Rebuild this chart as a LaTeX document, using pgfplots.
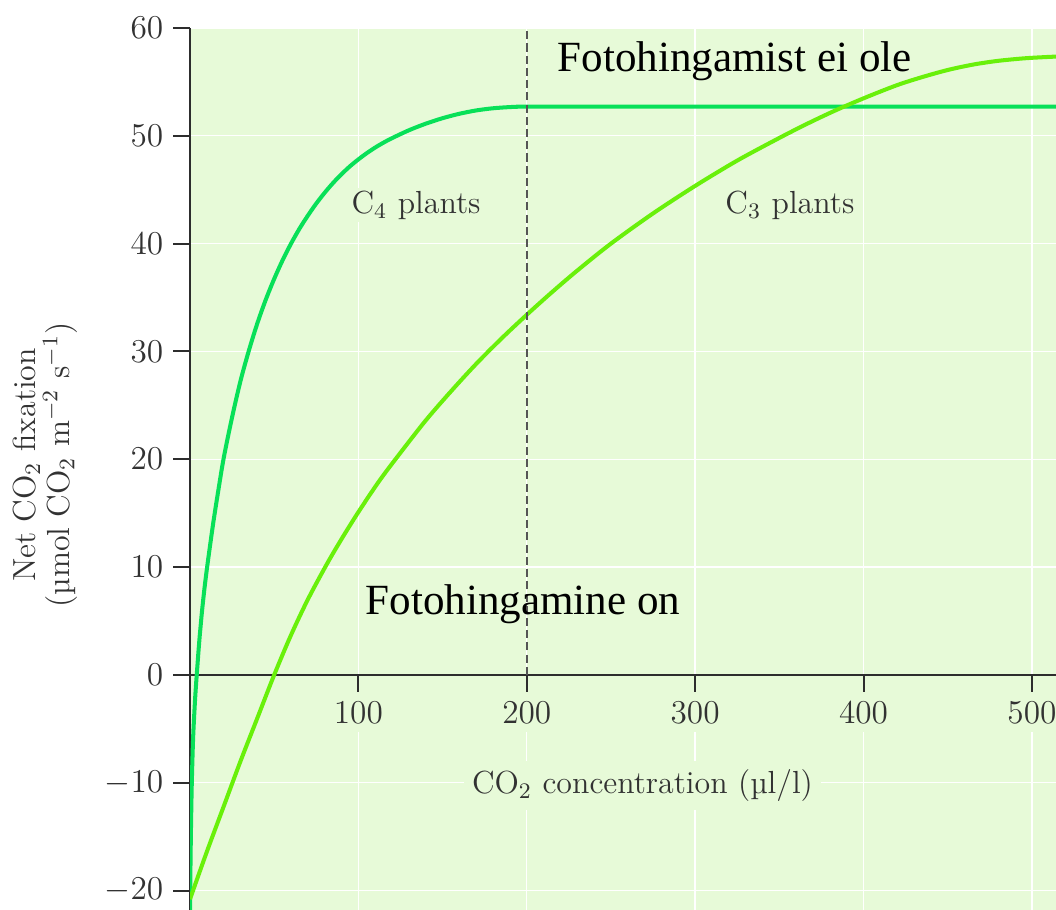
\documentclass[border=0pt]{standalone}
\usepackage{fontspec}
\usepackage{pgfplots}
\pgfplotsset{compat=1.18}
\newfontfamily\timesf{Liberation Serif}[Ligatures=TeX]
\definecolor{bgGreen}{RGB}{231,250,216}
\definecolor{cfour}{RGB}{8,224,88}
\definecolor{cthree}{RGB}{105,240,10}
\definecolor{axGray}{RGB}{45,45,45}
\definecolor{txtGray}{RGB}{50,50,50}
\definecolor{dashGray}{RGB}{85,85,85}

\begin{document}
\begin{tikzpicture}
\begin{axis}[
  scale only axis, width=311.76pt, height=317.52pt,
  xmin=0, xmax=514.3, ymin=-21.8, ymax=60,
  axis x line=middle, axis y line=left,
  axis line style={-, axGray, line width=0.7pt},
  xtick={100,200,...,500}, ytick={-20,-10,...,60},
  tick align=outside, major tick length=6.1pt,
  tick style={axGray, line width=0.7pt},
  grid=major, grid style={white, line width=0.5pt},
  axis background/.style={fill=bgGreen},
  tick label style={font=\fontsize{11.5}{13}\selectfont, text=txtGray},
  x tick label style={fill=bgGreen},
  clip mode=individual,
]
% C4 plants
\addplot[cfour, line width=1.45pt, smooth] coordinates {
  (0,-22) (0.3,-17.5) (0.6,-14) (1,-10.5) (1.5,-7.5) (2,-5.3) (3,-2.3) (4,0)
  (5.5,3.1) (7,5.7) (8.5,7.9) (10,9.8) (12,12.1) (14,14.3) (16.5,16.8) (20,20.1)
  (25,23.9) (30,27.27) (35,30.1) (40,32.61) (45,34.8) (50,36.73) (55,38.46) (60,40.0)
  (65,41.38) (70,42.6) (75,43.72) (80,44.72) (85,45.63) (90,46.44) (95,47.17)
  (100,47.81) (105,48.39) (110,48.91) (115,49.37) (120,49.78) (130,50.51)
  (140,51.12) (150,51.63) (160,52.04) (170,52.35) (180,52.55) (190,52.66)
  (200,52.7) (250,52.7) (300,52.7) (350,52.7) (400,52.7) (450,52.7) (515,52.7)
};
% C3 plants
\addplot[cthree, line width=1.45pt, smooth] coordinates {
  (0,-20.8) (10,-16.4) (20,-12.2) (30,-8.0) (40,-4.0) (50,0) (60,3.7) (70,7.0)
  (81,10.2) (90,12.6) (100,15.1) (112,17.9) (123,20.2) (140,23.6) (155,26.3)
  (170,28.85) (185,31.2) (200,33.4) (215,35.5) (230,37.5) (250,40.0) (275,42.8)
  (300,45.35) (325,47.7) (350,49.8) (367,51.15) (384,52.4) (402,53.6) (420,54.7)
  (435,55.45) (450,56.1) (465,56.6) (480,56.95) (497,57.2) (515,57.35)
};
% boundary at 200
\addplot[dashGray, line width=0.8pt, dash pattern=on 2.9pt off 1.5pt] coordinates {(200,0) (200,60)};

\node[anchor=base west, fill=bgGreen, inner sep=1pt, text=txtGray,
      font=\fontsize{11.5}{13}\selectfont] at (axis cs:94,42.8) {C$_4$ plants};
\node[anchor=base west, fill=bgGreen, inner sep=1pt, text=txtGray,
      font=\fontsize{11.5}{13}\selectfont] at (axis cs:316,42.8) {C$_3$ plants};
\node[anchor=base, fill=bgGreen, inner sep=3pt, text=txtGray,
      font=\fontsize{11.5}{13}\selectfont] at (axis cs:268.7,-11.0) {CO$_2$ concentration (µl/l)};
\node[anchor=base west, inner sep=0pt, font=\timesf\fontsize{15.5}{17}\selectfont]
      at (axis cs:218,56.0) {Fotohingamist ei ole};
\node[anchor=base west, inner sep=0pt, font=\timesf\fontsize{15.5}{17}\selectfont]
      at (axis cs:104,5.6) {Fotohingamine on};
\node[rotate=90, align=center, text=txtGray, font=\fontsize{11.5}{12.3}\selectfont]
      at (rel axis cs:-0.1674,0.5045) {Net CO$_2$ fixation\\(µmol CO$_2$ m$^{-2}$ s$^{-1}$)};

\coordinate (bbl) at (rel axis cs:-0.2194,0);
\coordinate (btr) at (rel axis cs:1,1.0317);
\end{axis}
\pgfresetboundingbox
\path[use as bounding box] (bbl) rectangle (btr);
\end{tikzpicture}
\end{document}
